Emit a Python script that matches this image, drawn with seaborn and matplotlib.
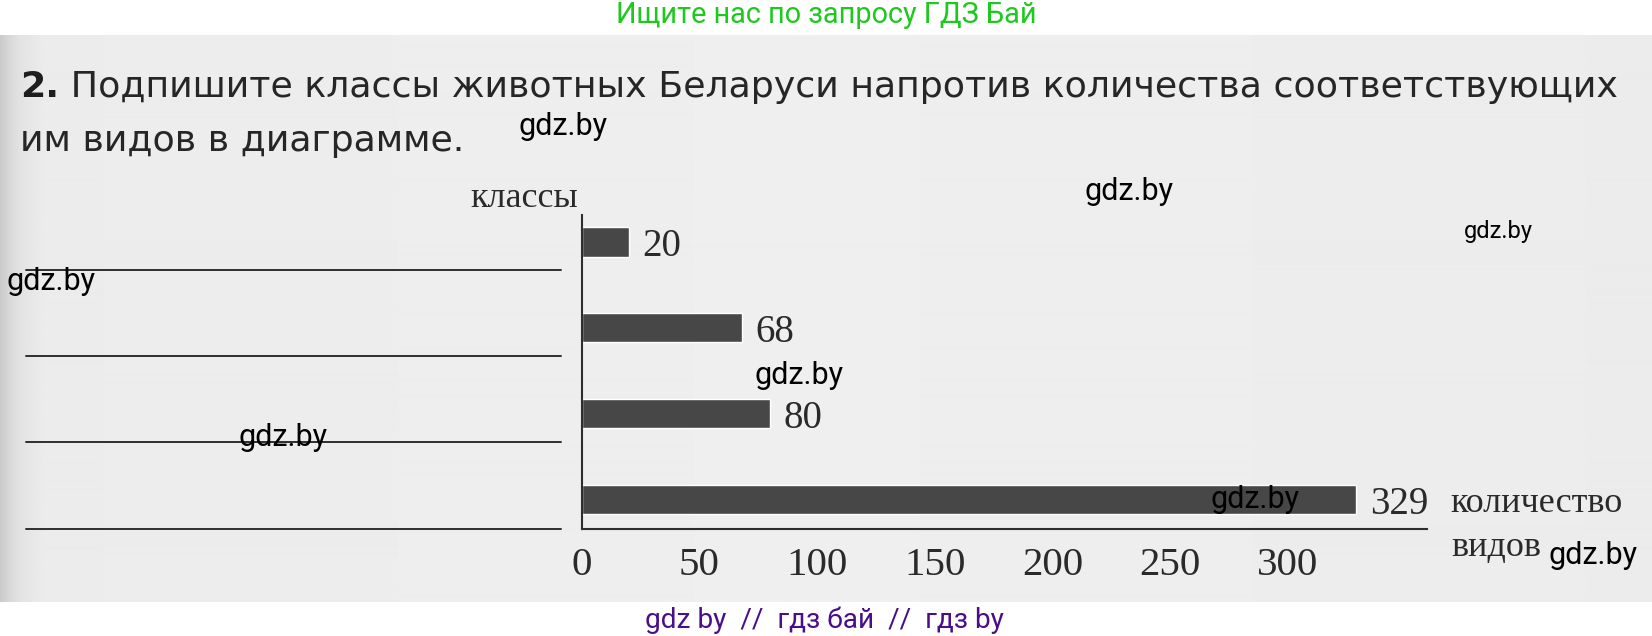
import numpy as np
import pandas as pd
import seaborn as sns
import matplotlib.pyplot as plt
from matplotlib import transforms

# ---------------- data ----------------
counts = [20, 68, 80, 329]
rows = ["1", "2", "3", "4"]          # blank answer lines (classes to be written in)
xticks = [0, 50, 100, 150, 200, 250, 300]
title_num = "2."
title_line1 = "Подпишите классы животных Беларуси напротив количества соответствующих"
title_line2 = "им видов в диаграмме."
y_label = "классы"
x_label_lines = ["количество", "видов"]
banner_top = "Ищите нас по запросу ГДЗ Бай"
banner_bottom = "gdz by  //  гдз бай  //  гдз by"
watermark = "gdz.by"

# ---------------- style ----------------
sns.set_style("white")
plt.rcParams['font.family'] = ['Liberation Serif', 'DejaVu Serif']

W, H = 1652, 636
fig = plt.figure(figsize=(W / 100, H / 100), dpi=100)
fig.patch.set_facecolor('white')

# scanned page background
bg = fig.add_axes([0, 0, 1, 1])
bg.axis('off')
xs = np.arange(W)
shade = np.interp(xs, [0, 8, 20, 45, 800, 1652], [0.79, 0.84, 0.89, 0.925, 0.935, 0.925])
bg.imshow(np.tile(shade, (2, 1)), cmap='gray', vmin=0, vmax=1,
          extent=(0, W, 602, 35), aspect='auto', interpolation='bilinear')
bg.set_xlim(0, W)
bg.set_ylim(H, 0)

tc = '#2a2a2a'
line_c = '#2e2e2e'

# ---------------- chart ----------------
ax = fig.add_axes([581.7 / W, (H - 529.3) / H, 845 / W, (529.3 - 215) / H])
ax.patch.set_alpha(0)
df = pd.DataFrame({"row": rows, "count": counts})
sns.barplot(data=df, x="count", y="row", orient="h", color="#474747",
            saturation=1, width=0.34, ax=ax)
vlabels = ax.bar_label(ax.containers[0], labels=[str(c) for c in counts], padding=10,
                       fontsize=28, color=tc)
for t in vlabels:
    t.set_va('center_baseline')

for s in ['top', 'right']:
    ax.spines[s].set_visible(False)
for s in ['left', 'bottom']:
    ax.spines[s].set_linewidth(1.5)
    ax.spines[s].set_color(line_c)

ax.set_xticks(xticks)
ax.set_xticklabels([str(t) for t in xticks])
ax.tick_params(axis='x', length=5, width=1.1, color=line_c, pad=8,
               labelsize=29.5, labelcolor=tc)
ax.tick_params(axis='y', length=0, labelleft=False)
ax.set_ylabel(y_label, rotation=0, ha='right', va='baseline', fontsize=26, color=tc)
ax.yaxis.set_label_coords(-0.004, 1.0255)
# x-axis caption: first line as the axis label, second line just below it
ax.set_xlabel(x_label_lines[0], ha='left', va='baseline', fontsize=26, color=tc)
ax.xaxis.set_label_coords(1.0276, 0.055)
ax.annotate(x_label_lines[1], xy=(1.0276, 0.055), xycoords='axes fraction',
            xytext=(1, -31.5), textcoords='offset points', ha='left', va='baseline',
            fontsize=26, color=tc, annotation_clip=False)

# blank answer lines to the left of each bar
trans = transforms.blended_transform_factory(bg.transData, ax.transData)
for i in range(len(rows)):
    yy = i + 0.33 if i < len(rows) - 1 else 3.345
    ax.plot([26, 561], [yy, yy], transform=trans, clip_on=False, color=line_c, lw=1.4)

ax.set_xlim(0, 359)
ax.set_ylim(3.345, -0.314)

# ---------------- texts ----------------
tt = '#262626'
t0 = fig.text(20 / W, 1 - 97 / H, title_num, fontsize=27, weight='bold',
              family='DejaVu Sans', color='#1e1e1e', va='baseline')
t1 = bg.annotate(" " + title_line1, xy=(1, 0), xycoords=t0, va='bottom', ha='left',
                 fontsize=27, family='DejaVu Sans', color=tt)
t2 = fig.text(20 / W, 1 - 151 / H, title_line2, fontsize=27, family='DejaVu Sans',
              color=tt, va='baseline')

g = fig.text(826 / W, 1 - 15 / H, banner_top, ha='center', va='center', fontsize=19,
             family='Roboto', color='#1ec81e')
p = fig.text(824 / W, 1 - 620 / H, banner_bottom, ha='center', va='center', fontsize=19,
             family='Roboto', color='#4a0e8a')

fig.canvas.draw()
r = fig.canvas.get_renderer()
w_title = t1.get_window_extent(r).x1 - t0.get_window_extent(r).x0
k = (1622 - 20) / w_title
for t in (t0, t1, t2):
    t.set_fontsize(t.get_fontsize() * k)
g.set_fontsize(g.get_fontsize() * 419 / g.get_window_extent(r).width)
p.set_fontsize(p.get_fontsize() * 358 / p.get_window_extent(r).width)

wm = [(518, 126, 22), (1085, 192, 22), (1464, 232, 17), (6, 282, 22),
      (755, 375, 22), (238, 438, 22), (1210, 499, 22), (1549, 556, 22)]
for x, y, s in wm:
    fig.text(x / W, 1 - y / H, watermark, ha='left', va='center', family='Roboto',
             fontsize=s, color='black', zorder=10)

fig.savefig("out.png", dpi=100, facecolor='white')
